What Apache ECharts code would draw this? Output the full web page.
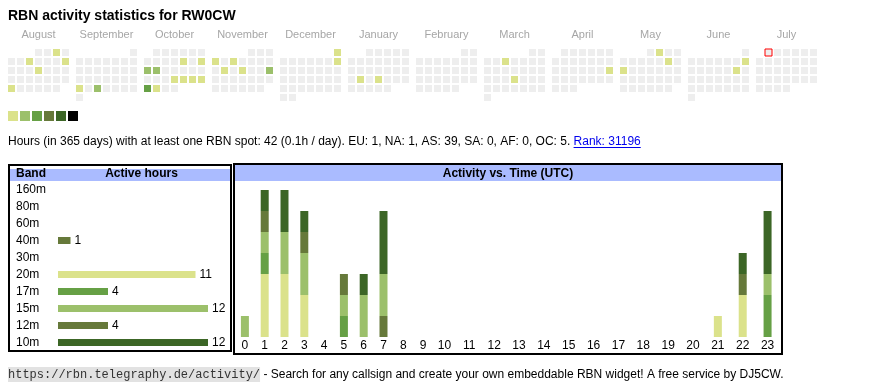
<!DOCTYPE html>
<html><head><meta charset="utf-8">
<script src="https://cdn.jsdelivr.net/npm/echarts@6/dist/echarts.min.js"></script>
<style>html,body{margin:0;padding:0;background:#fff}#c{width:870px;height:390px}</style>
</head><body><div id="c"></div>
<script>
// ---------- data ----------
const callsign = 'RW0CW';
const months = ['2024-08','2024-09','2024-10','2024-11','2024-12','2025-01','2025-02','2025-03','2025-04','2025-05','2025-06','2025-07'];
const monthNames = ['August','September','October','November','December','January','February','March','April','May','June','July'];
const activeDays = [
  ['2024-08-03',1],['2024-08-07',1],['2024-08-11',1],['2024-08-15',1],['2024-08-26',1],
  ['2024-09-23',1],['2024-09-25',2],
  ['2024-10-11',1],['2024-10-13',1],['2024-10-14',2],['2024-10-15',2],['2024-10-24',1],['2024-10-25',1],['2024-10-26',1],['2024-10-27',1],['2024-10-28',4],['2024-10-29',1],
  ['2024-11-04',1],['2024-11-06',1],['2024-11-12',1],['2024-11-14',1],['2024-11-17',3],
  ['2024-12-01',1],['2024-12-08',1],
  ['2025-01-21',1],['2025-01-23',1],
  ['2025-03-05',1],['2025-03-20',1],
  ['2025-04-20',1],
  ['2025-05-02',1],['2025-05-10',1],['2025-05-12',1],
  ['2025-06-08',1],['2025-06-14',1]
];
const todayMark = ['2025-07-01'];
const levelMin = [1,2,4,6,9,13];
const levelMax = [1,3,5,8,12,null];
const bands = ['160m','80m','60m','40m','30m','20m','17m','15m','12m','10m'];
const hourLabels = ['0','1','2','3','4','5','6','7','8','9','10','11','12','13','14','15','16','17','18','19','20','21','22','23'];
//                0 1 2 3 4 5 6 7 8 9 0 1 2 3 4 5 6 7 8 9 0 1 2 3
const h160 = [0,0,0,0,0,0,0,0,0,0,0,0,0,0,0,0,0,0,0,0,0,0,0,0];
const h80  = [0,0,0,0,0,0,0,0,0,0,0,0,0,0,0,0,0,0,0,0,0,0,0,0];
const h60  = [0,0,0,0,0,0,0,0,0,0,0,0,0,0,0,0,0,0,0,0,0,0,0,0];
const h40  = [0,0,0,0,0,0,0,1,0,0,0,0,0,0,0,0,0,0,0,0,0,0,0,0];
const h30  = [0,0,0,0,0,0,0,0,0,0,0,0,0,0,0,0,0,0,0,0,0,0,0,0];
const h20  = [0,3,3,2,0,0,0,0,0,0,0,0,0,0,0,0,0,0,0,0,0,1,2,0];
const h17  = [0,1,0,0,0,1,0,0,0,0,0,0,0,0,0,0,0,0,0,0,0,0,0,2];
const h15  = [1,1,2,2,0,1,2,2,0,0,0,0,0,0,0,0,0,0,0,0,0,0,0,1];
const h12  = [0,1,0,1,0,1,0,0,0,0,0,0,0,0,0,0,0,0,0,0,0,0,1,0];
const h10  = [0,1,2,1,0,0,1,3,0,0,0,0,0,0,0,0,0,0,0,0,0,0,1,3];
const statsText = 'Hours (in 365 days) with at least one RBN spot: 42 (0.1h / day). EU: 1, NA: 1, AS: 39, SA: 0, AF: 0, OC: 5. ';
const rankText = 'Rank: 31196';
const footerUrl = 'https://rbn.telegraphy.de/activity/';
const footerText = ' - Search for any callsign and create your own embeddable RBN widget! A free service by DJ5CW.';

// ---------- styles ----------
const levelColors = ['#dbe28b','#9cc06b','#66a045','#66793a','#3c6626','#000000'];
const bandColors = ['#dbe28b','#9cc06b','#66a045','#66793a','#3c6626','#dbe28b','#66a045','#9cc06b','#66793a','#3c6626'];
const FONT = 'Liberation Sans, Arial, sans-serif';
const headBlue = '#aabbff';

const hourly = [h160,h80,h60,h40,h30,h20,h17,h15,h12,h10];
const bandTotals = hourly.map(a => a.reduce((s,v)=>s+v,0));
const stackMax = Math.max(...hourLabels.map((_,i)=>hourly.reduce((s,a)=>s+a[i],0)));

const chart = echarts.init(document.getElementById('c'), null, {renderer:'canvas'});

// calendars
const calendars = months.map((m,i)=>({
  orient:'vertical', range:m, cellSize:[9,9], left:7+68*i, top:48,
  splitLine:{show:false},
  itemStyle:{color:'#eeeeee', borderColor:'#ffffff', borderWidth:2},
  dayLabel:{show:false, firstDay:1}, monthLabel:{show:false}, yearLabel:{show:false}
}));

const series = [];
const heatIdx = [];
months.forEach((m,i)=>{
  heatIdx.push(series.length);
  series.push({
    type:'heatmap', coordinateSystem:'calendar', calendarIndex:i,
    data: activeDays.filter(d=>d[0].startsWith(m)),
    itemStyle:{borderWidth:0}, emphasis:{disabled:true}, silent:true
  });
});
series.push({
  type:'scatter', coordinateSystem:'calendar', calendarIndex:months.indexOf(todayMark[0].slice(0,7)),
  data: todayMark.map(d=>[d,0]), symbol:'rect', symbolSize:7,
  itemStyle:{color:'#eeeeee', borderColor:'#ff0000', borderWidth:1, opacity:1}, silent:true
});

// band chart
series.push({
  type:'bar', xAxisIndex:0, yAxisIndex:0, barWidth:7, silent:true,
  data: bandTotals.map((v,i)=>({value:v, itemStyle:{color:bandColors[i]}})),
  label:{show:true, position:'right', distance:4, color:'#000', fontSize:12, fontFamily:FONT,
         formatter:p=>p.value>0?String(p.value):''}
});
// time chart (two grids: 1-digit and 2-digit hour columns)
[[0,10,1,'a'],[10,24,2,'b']].forEach(([s,e,ax,st])=>{
  hourly.forEach((arr,bi)=>{
    series.push({type:'bar', xAxisIndex:ax, yAxisIndex:ax, stack:st, barWidth:8, silent:true,
      itemStyle:{color:bandColors[bi]}, data:arr.slice(s,e)});
  });
});

// text measurement
const mctx = document.createElement('canvas').getContext('2d');
mctx.font = '12px ' + FONT;
const statsW = mctx.measureText(statsText).width;
const rankW = mctx.measureText(rankText).width;

const hourAxis = (data, idx) => ({
  type:'category', gridIndex:idx, data:data, axisLine:{show:false}, axisTick:{show:false},
  axisLabel:{color:'#000', fontSize:12, fontFamily:FONT, margin:3, interval:0}
});
const hiddenVal = (idx, max) => ({type:'value', gridIndex:idx, min:0, max:max, show:false, splitLine:{show:false}});

const monthTexts = monthNames.map((n,i)=>({
  type:'text', x:38.5+68*i, y:34.5, silent:true,
  style:{text:n, fill:'#a6a6a6', font:'11px '+FONT, align:'center', verticalAlign:'middle'}
}));

chart.setOption({
  animation:false,
  backgroundColor:'#fff',
  calendar: calendars,
  visualMap: {
    type:'piecewise', seriesIndex:heatIdx, orient:'horizontal', left:8, top:111, padding:0,
    itemWidth:10, itemHeight:10, itemGap:2, showLabel:false, itemSymbol:'rect',
    selectedMode:false, hoverLink:false,
    pieces: levelMin.map((mn,i)=> levelMax[i]==null ? {gte:mn, color:levelColors[i]} : {gte:mn, lte:levelMax[i], color:levelColors[i]})
  },
  grid: [
    {left:58, top:181, width:150, height:170},
    {left:235, top:190, width:198, height:147},
    {left:432, top:190, width:348, height:147}
  ],
  xAxis: [
    hiddenVal(0, Math.max(...bandTotals)),
    hourAxis(hourLabels.slice(0,10), 1),
    hourAxis(hourLabels.slice(10), 2)
  ],
  yAxis: [
    {type:'category', gridIndex:0, data:bands, inverse:true, axisLine:{show:false}, axisTick:{show:false},
     axisLabel:{color:'#000', fontSize:12, fontFamily:FONT, align:'left', margin:42}},
    hiddenVal(1, stackMax),
    hiddenVal(2, stackMax)
  ],
  series: series,
  graphic: [
    {type:'text', x:8, y:16.5, silent:true, style:{text:'RBN activity statistics for '+callsign, fill:'#000', font:'bold 14px '+FONT, verticalAlign:'middle'}},
    ...monthTexts,
    {type:'text', x:8, y:142, silent:true, style:{text:statsText, fill:'#000', font:'12px '+FONT, verticalAlign:'middle'}},
    {type:'text', x:8+statsW, y:142, silent:true, style:{text:rankText, fill:'#0000ee', font:'12px '+FONT, verticalAlign:'middle'}},
    {type:'line', silent:true, shape:{x1:8+statsW, y1:147.5, x2:8+statsW+rankW, y2:147.5}, style:{stroke:'#0000ee', lineWidth:1}},
    {type:'rect', silent:true, shape:{x:10, y:169, width:221, height:12}, style:{fill:headBlue}},
    {type:'rect', silent:true, shape:{x:235, y:165, width:546, height:16}, style:{fill:headBlue}},
    {type:'rect', silent:true, shape:{x:9, y:165, width:222, height:186}, style:{fill:'none', stroke:'#000', lineWidth:2}},
    {type:'rect', silent:true, shape:{x:234, y:164, width:548, height:190}, style:{fill:'none', stroke:'#000', lineWidth:2}},
    {type:'text', x:16, y:173.5, silent:true, style:{text:'Band', fill:'#000', font:'bold 12px '+FONT, verticalAlign:'middle'}},
    {type:'text', x:141.5, y:173.5, silent:true, style:{text:'Active hours', fill:'#000', font:'bold 12px '+FONT, align:'center', verticalAlign:'middle'}},
    {type:'text', x:508, y:173.5, silent:true, style:{text:'Activity vs. Time (UTC)', fill:'#000', font:'bold 12px '+FONT, align:'center', verticalAlign:'middle'}},
    {type:'text', x:8, y:374.5, silent:true, style:{
      text:'{code|'+footerUrl+'}{t|'+footerText+'}', verticalAlign:'middle',
      rich:{
        code:{fontFamily:'Liberation Mono, Courier New, monospace', fontSize:12, fill:'#333', color:'#333', backgroundColor:'#e2e2e2', padding:[2,0,1,0]},
        t:{fontFamily:FONT, fontSize:12, fill:'#000', color:'#000'}
      }}}
  ]
});
</script></body></html>
